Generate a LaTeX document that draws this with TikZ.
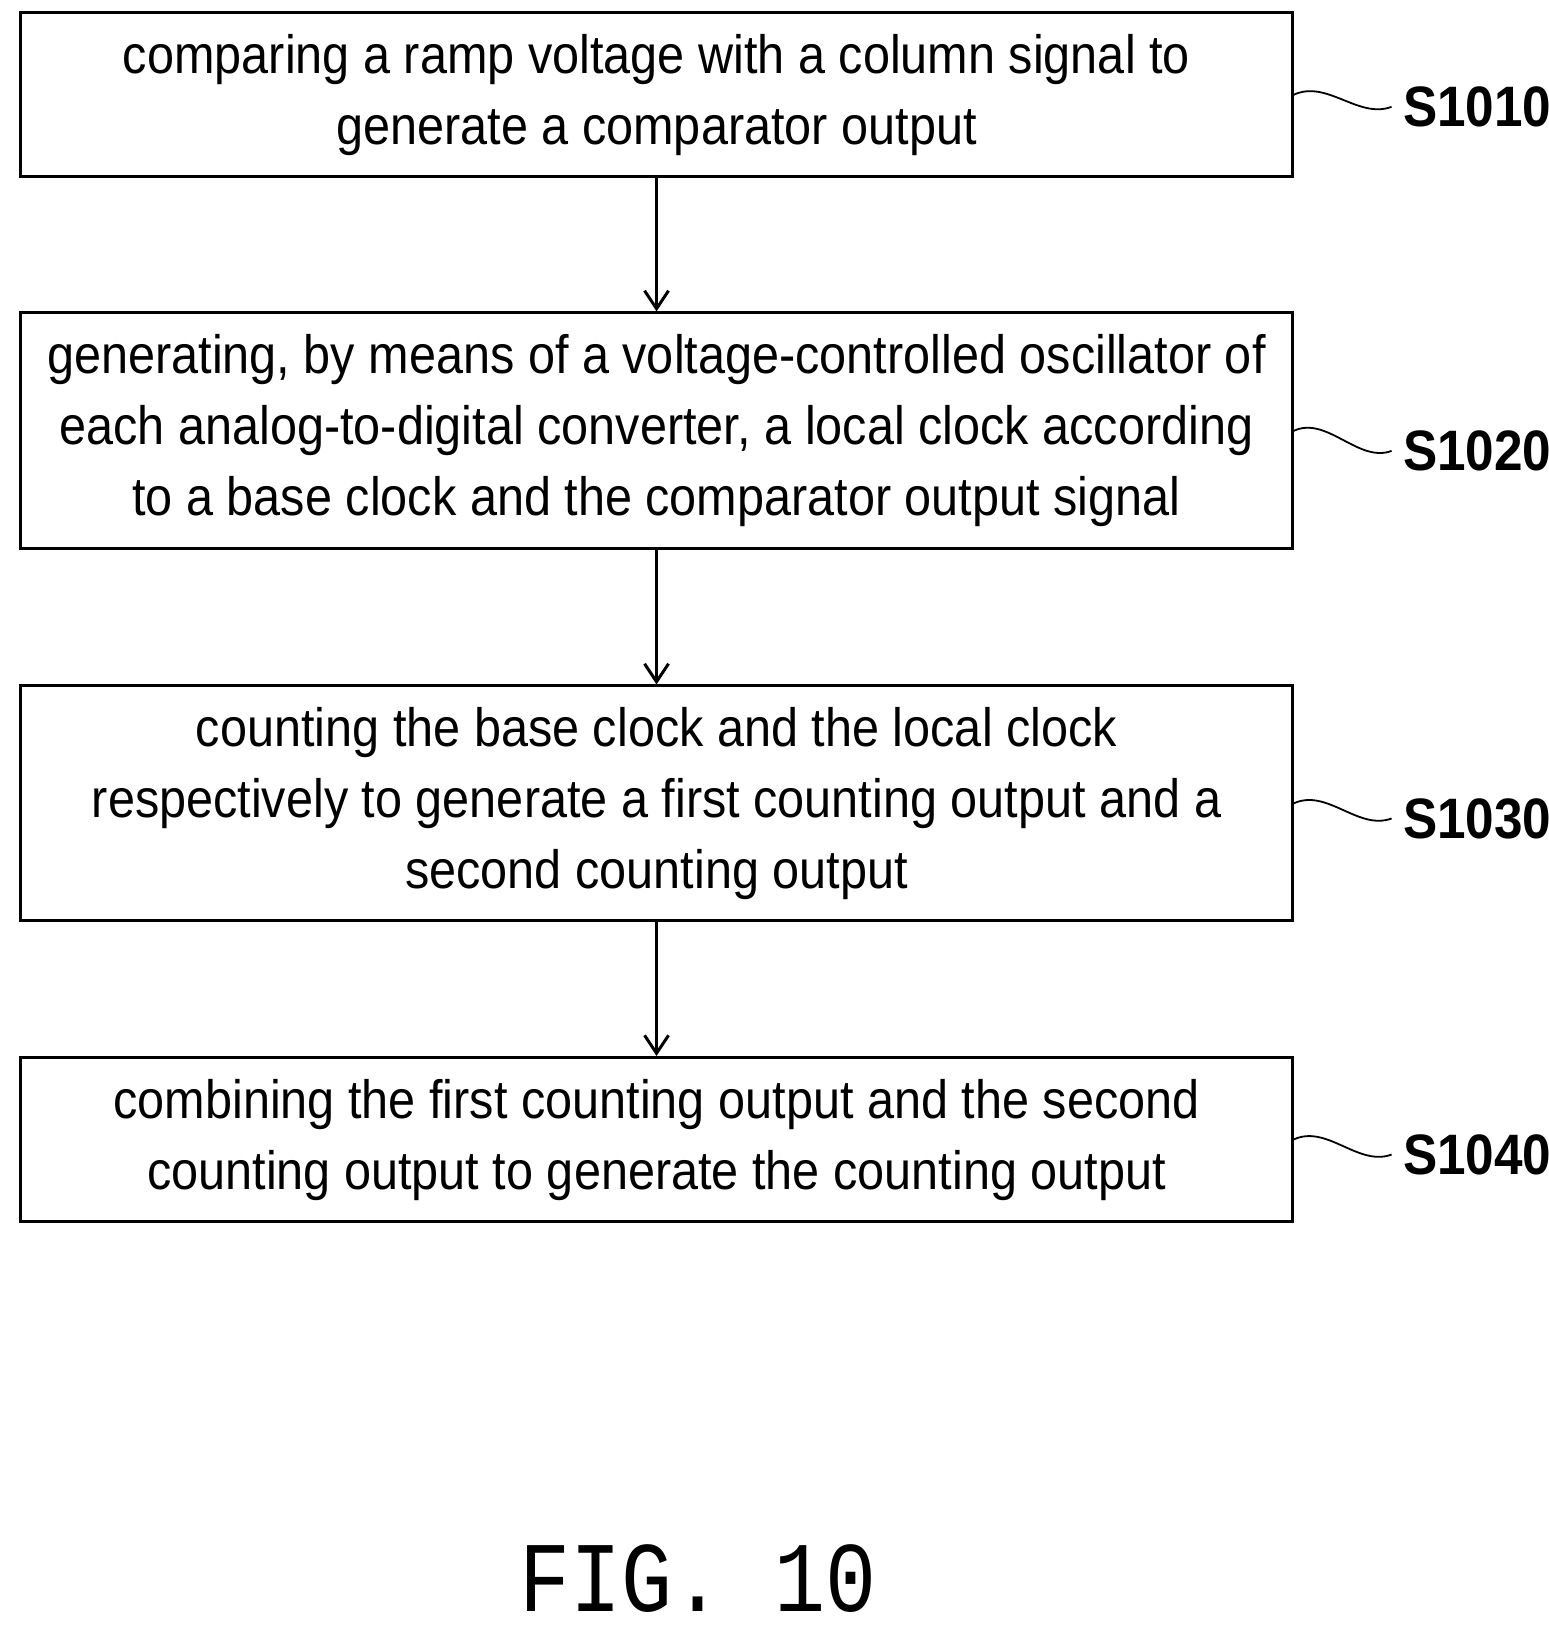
\documentclass[tikz,border=0pt]{standalone}
\usepackage{fontspec}
\setmainfont{Liberation Sans}[FakeStretch=0.9]
\newfontfamily\monof{Liberation Mono}[FakeStretch=0.85]
\usetikzlibrary{arrows.meta}
\begin{document}
\begin{tikzpicture}[x=1.042pt,y=-1.042pt,
  stepbox/.style={draw,line width=3pt,minimum width=1271pt,inner sep=0pt,align=center,
    font=\fontsize{54}{71}\selectfont},
  lbl/.style={font=\bfseries\fontsize{57}{64}\selectfont,anchor=west},
  arr/.style={-{Straight Barb[length=18pt,width=24pt,line width=3pt]},line width=3pt},
  sq/.style={line width=1.8pt}]
\useasboundingbox (0,0) rectangle (1486,1568);
\node[stepbox,minimum height=164pt] (b1) at (630,91) {comparing a ramp voltage with a column signal to\\generate a comparator output};
\node[stepbox,minimum height=236pt] (b2) at (630,413.5) {generating, by means of a voltage-controlled oscillator of\\each analog-to-digital converter, a local clock according\\to a base clock and the comparator output signal};
\node[stepbox,minimum height=235pt] (b3) at (630,771) {counting the base clock and the local clock\\respectively to generate a first counting output and a\\second counting output};
\node[stepbox,minimum height=164pt] (b4) at (630,1093.5) {combining the first counting output and the second\\counting output to generate the counting output};
\draw[arr] (b1) -- (b2);
\draw[arr] (b2) -- (b3);
\draw[arr] (b3) -- (b4);
\foreach \b/\t/\dy in {b1/S1010/12,b2/S1020/20,b3/S1030/15,b4/S1040/15}{
  \node[lbl] (l\b) at ([xshift=106pt,yshift=-\dy pt]\b.east) {\t};
  \draw[sq] (\b.east) .. controls +(32,-15) and +(-32,12) .. ([xshift=-8pt]l\b.west);
}
\node[font=\monof\fontsize{100}{110}\selectfont] (fig) at (670,1515) {FIG. 10};
\end{tikzpicture}
\end{document}
